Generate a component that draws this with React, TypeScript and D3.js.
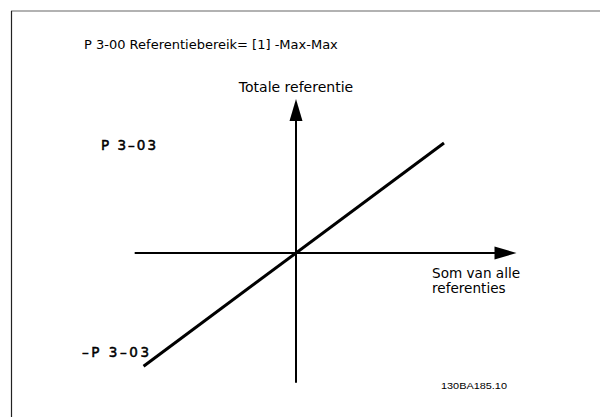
import React from "react";
import * as d3 from "d3";

// Data (in reference units, P 3-03 = 1)
const refLine = [
  { x: -1.03, y: -1.03 },
  { x: 1.0, y: 1.0 },
];
const xAxisExtent = [-1.09, 1.49];
const yAxisExtent = [-1.18, 1.40];
const labels = {
  title: "P 3-00 Referentiebereik= [1] -Max-Max",
  yAxis: "Totale referentie",
  xAxis1: "Som van alle",
  xAxis2: "referenties",
  pMax: "P 3\u201303",
  pMin: "\u2013P 3\u201303",
  code: "130BA185.10",
};

export default function App() {
  const x = d3.scaleLinear().domain([0, 1]).range([296, 444]);
  const y = d3.scaleLinear().domain([0, 1]).range([253, 143]);
  const line = d3
    .line<{ x: number; y: number }>()
    .x((d) => x(d.x))
    .y((d) => y(d.y));

  const x0 = x(0);
  const y0 = y(0);
  const xL = x(xAxisExtent[0]);
  const xR = x(xAxisExtent[1]);
  const yB = y(yAxisExtent[0]);
  const yT = y(yAxisExtent[1]);
  const ah = 22; // arrow length
  const aw = 6.5; // half width

  return (
    <svg
      width={600}
      height={417}
      style={{ position: "absolute", left: 0, top: 0 }}
    >
      <rect width={600} height={417} fill="#fff" />
      {/* frame */}
      <line x1={11} y1={11} x2={600} y2={11} stroke="#666" strokeWidth={1.2} />
      <line x1={11.5} y1={11} x2={11.5} y2={417} stroke="#222" strokeWidth={1.2} />

      {/* axes */}
      <line x1={xL} y1={y0} x2={xR - ah + 2} y2={y0} stroke="#000" strokeWidth={2} />
      <path
        d={`M${xR},${y0} L${xR - ah},${y0 - aw} L${xR - ah},${y0 + aw} Z`}
        fill="#000"
      />
      <line x1={x0} y1={yB} x2={x0} y2={yT + ah - 2} stroke="#000" strokeWidth={2} />
      <path
        d={`M${x0},${yT} L${x0 - aw},${yT + ah} L${x0 + aw},${yT + ah} Z`}
        fill="#000"
      />

      {/* reference line */}
      <path d={line(refLine) || ""} fill="none" stroke="#000" strokeWidth={3} />

      {/* texts */}
      <g fontFamily="DejaVu Sans, Verdana, sans-serif" fill="#000">
        <text x={84} y={49} fontSize={13}>
          {labels.title}
        </text>
        <text x={x0} y={92} fontSize={14} textAnchor="middle">
          {labels.yAxis}
        </text>
        <text x={432} y={278} fontSize={13.6}>
          {labels.xAxis1}
        </text>
        <text x={432} y={293} fontSize={13.6}>
          {labels.xAxis2}
        </text>
      </g>
      <g fontFamily="DejaVu Sans, sans-serif" fill="#000" stroke="#000" strokeWidth={0.5}>
        <text x={101} y={150} fontSize={13.5} textLength={55} lengthAdjust="spacing">
          {labels.pMax}
        </text>
        <text x={82} y={357} fontSize={13.5} textLength={67} lengthAdjust="spacing">
          {labels.pMin}
        </text>
      </g>
      <text
        x={441}
        y={389}
        fontSize={9.5}
        fontFamily="Liberation Sans, Arial, sans-serif"
        textLength={66}
        lengthAdjust="spacingAndGlyphs"
      >
        {labels.code}
      </text>
    </svg>
  );
}
